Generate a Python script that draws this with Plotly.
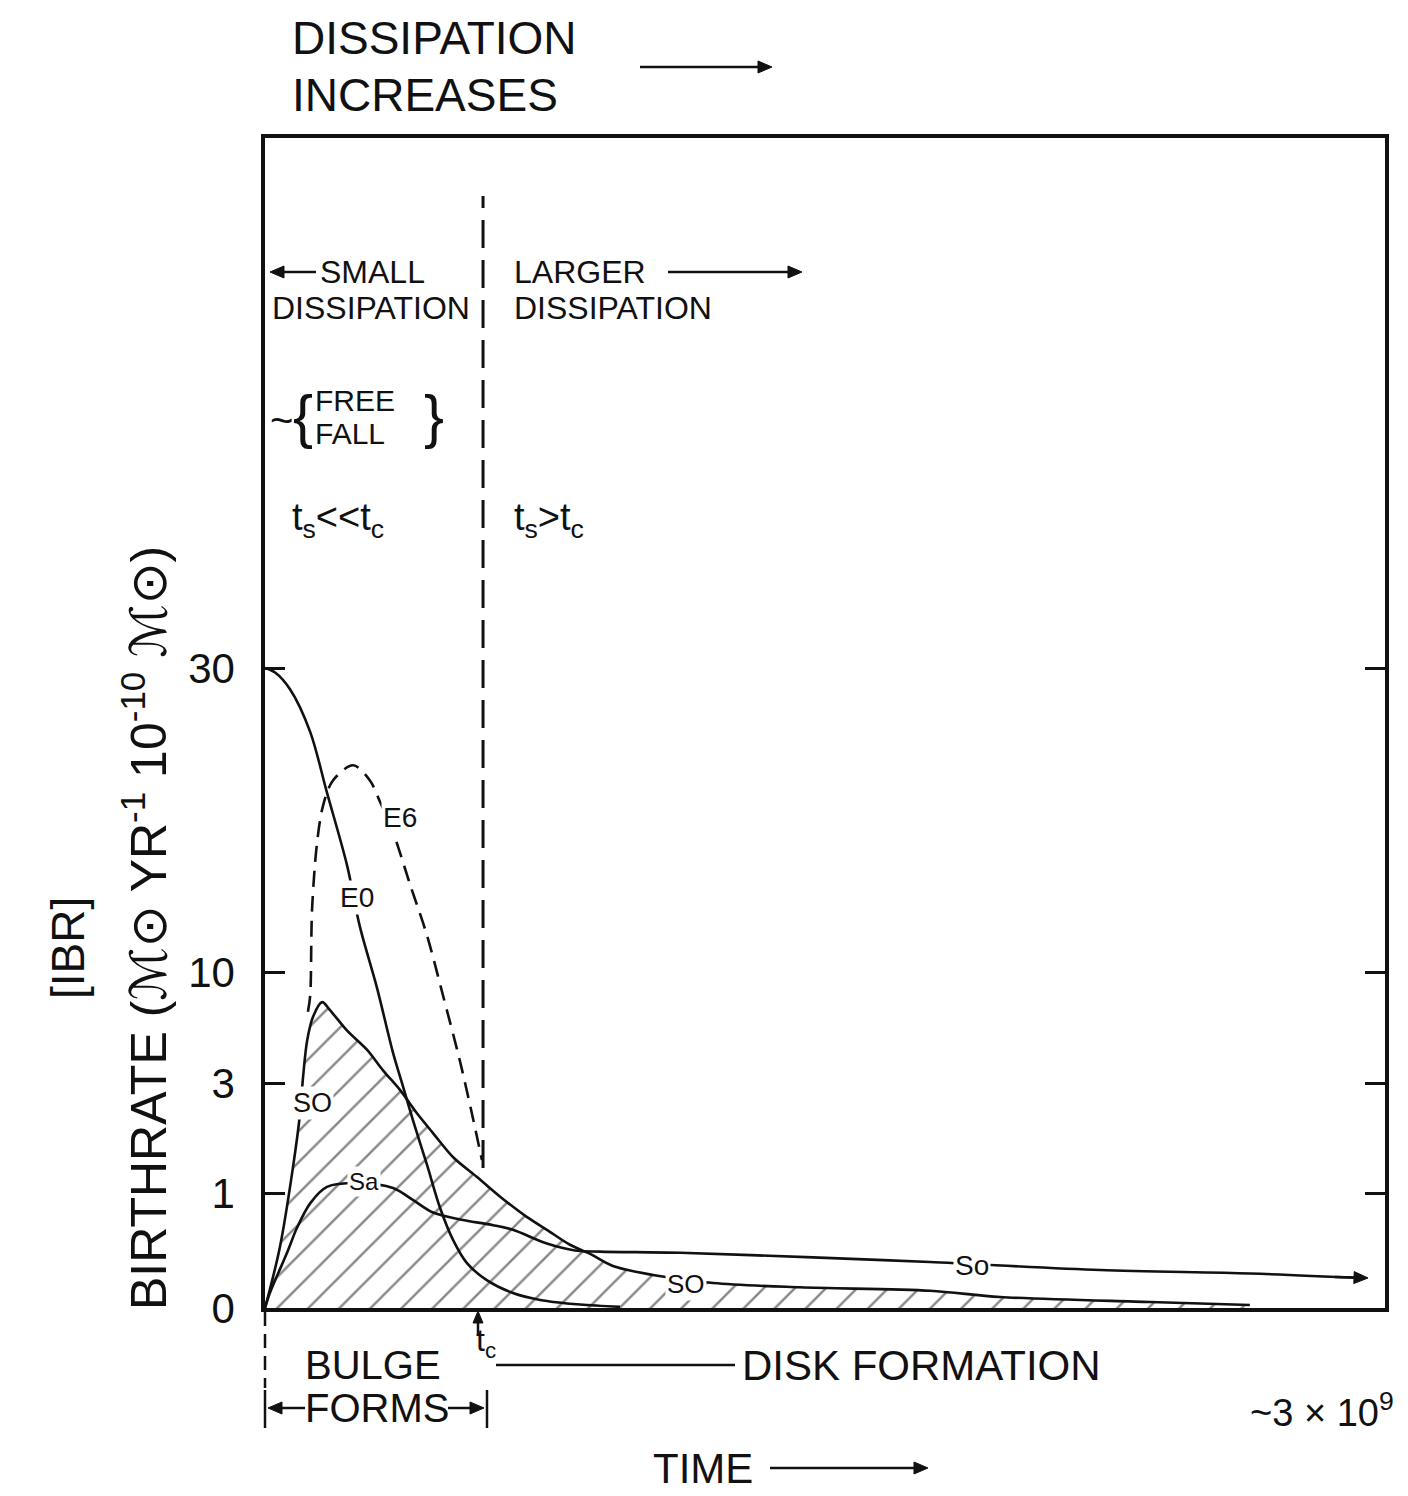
import numpy as np
import plotly.graph_objects as go

# ---------------- data (time in units of 1e9 yr, birthrate in 1e-10 M_sun/yr per M_sun) ----
TC = 0.584          # end of bulge formation, t_c
X_MAX = 3.0         # ~3 x 10^9

E0_t = [0.000, 0.027, 0.067, 0.121, 0.166, 0.220, 0.254, 0.300, 0.343, 0.370, 0.396,
        0.434, 0.469, 0.504, 0.541, 0.595, 0.664, 0.737, 0.844, 0.951]
E0_v = [30.0, 29.7, 28.6, 25.8, 21.8, 17.0, 13.0, 9.0, 4.9, 2.93, 2.33,
        1.51, 0.87, 0.59, 0.39, 0.24, 0.13, 0.07, 0.03, 0.01]

E6_t = [0.115, 0.121, 0.126, 0.139, 0.155, 0.182, 0.236, 0.281, 0.308, 0.343, 0.388,
        0.434, 0.477, 0.522, 0.557, 0.581]
E6_v = [7.5, 8.5, 14.1, 18.4, 20.9, 22.6, 23.6, 22.6, 21.2, 19.2, 15.8,
        12.4, 8.5, 4.4, 2.36, 1.6]

S0_t = [0.000, 0.013, 0.040, 0.075, 0.094, 0.102, 0.113, 0.129, 0.153, 0.174, 0.220,
        0.273, 0.316, 0.362, 0.407, 0.450, 0.504, 0.568, 0.629, 0.702, 0.755, 0.817,
        0.871, 0.932, 1.039, 1.200, 1.433, 1.781, 1.969, 2.371, 2.638]
S0_v = [0.0, 0.16, 0.53, 1.47, 2.45, 3.38, 5.7, 7.2, 8.1, 7.6, 6.3,
        5.1, 3.8, 2.87, 2.45, 2.09, 1.65, 1.29, 0.97, 0.79, 0.68, 0.55,
        0.47, 0.365, 0.287, 0.217, 0.18, 0.15, 0.096, 0.052, 0.026]

Sa_t = [0.000, 0.013, 0.059, 0.086, 0.121, 0.166, 0.254, 0.343, 0.396, 0.450, 0.522,
        0.611, 0.664, 0.755, 0.830, 0.897, 1.112, 1.468, 1.781, 2.237, 2.638, 2.946]
Sa_v = [0.0, 0.13, 0.48, 0.70, 0.91, 1.11, 1.18, 1.09, 0.94, 0.83, 0.77,
        0.72, 0.68, 0.56, 0.50, 0.49, 0.48, 0.44, 0.40, 0.33, 0.30, 0.26]

TICK_VALUES = [0, 1, 3, 10, 30]
TICK_TEXT = ["0", "1", "3", "10", "30"]

# ---------------- the hand-drawn (non-uniform) birthrate scale --------------------------
AXIS_POS = [0, 115, 225, 336, 640]
Y_TOP = 1170


def yscale(v):
    return np.interp(v, TICK_VALUES, AXIS_POS)


# ---------------- page geometry (screen pixels; page body adds an 8px margin) -------------
BODY = 8
W, H = 1400, 1488
L, R, T, B = 265, 1385, 138, 1308          # plot frame on screen
FONT = "Liberation Sans, Arial, DejaVu Sans, sans-serif"
INK = "#111111"


def px(x):
    return (x - L) / (R - L)


def py(y):
    return (B - y) / (B - T)


fig = go.Figure()

line_kw = dict(shape="spline", smoothing=0.9)

# S0 with hatched area beneath
fig.add_trace(go.Scatter(
    x=S0_t, y=yscale(S0_v), mode="lines", fill="tozeroy",
    fillpattern=dict(shape="/", fgcolor=INK, bgcolor="white", size=22, solidity=0.11),
    line=dict(color=INK, width=2.6, **line_kw), hoverinfo="skip", showlegend=False))

fig.add_trace(go.Scatter(
    x=Sa_t, y=yscale(Sa_v), mode="lines",
    line=dict(color=INK, width=2.6, **line_kw), showlegend=False))

fig.add_trace(go.Scatter(
    x=E0_t, y=yscale(E0_v), mode="lines",
    line=dict(color=INK, width=2.6, **line_kw), showlegend=False))

fig.add_trace(go.Scatter(
    x=E6_t, y=yscale(E6_v), mode="lines",
    line=dict(color=INK, width=2.6, dash="16px,9px", **line_kw), showlegend=False))

annotations = []
shapes = []


def text(s, x, y, size, xanchor="center", angle=0, bg=None):
    d = dict(text=s, x=px(x), y=py(y), xref="paper", yref="paper", showarrow=False,
             xanchor=xanchor, yanchor="middle", textangle=angle,
             font=dict(family=FONT, size=size, color=INK))
    if bg:
        d["bgcolor"] = bg
        d["borderpad"] = 1
    annotations.append(d)


def seg(x0, y0, x1, y1, width=2.5, dash=None):
    ln = dict(color=INK, width=width)
    if dash:
        ln["dash"] = dash
    shapes.append(dict(type="line", xref="paper", yref="paper",
                       x0=px(x0), y0=py(y0), x1=px(x1), y1=py(y1), line=ln))


def arrow(x0, y0, x1, y1, width=2.5, head=14, half=6):
    dx, dy = x1 - x0, y1 - y0
    n = (dx * dx + dy * dy) ** 0.5
    ux, uy = dx / n, dy / n
    bx, by = x1 - ux * head, y1 - uy * head
    seg(x0, y0, bx, by, width)
    p1 = (bx - uy * half, by + ux * half)
    p2 = (bx + uy * half, by - ux * half)
    path = "M {:.5f},{:.5f} L {:.5f},{:.5f} L {:.5f},{:.5f} Z".format(
        px(x1), py(y1), px(p1[0]), py(p1[1]), px(p2[0]), py(p2[1]))
    shapes.append(dict(type="path", xref="paper", yref="paper", path=path,
                       fillcolor=INK, line=dict(color=INK, width=1)))


# top heading
text("DISSIPATION", 290, 38, 46, "left")
text("INCREASES", 290, 95, 46, "left")
arrow(640, 67, 772, 67)

# regime labels inside the frame
text("SMALL", 318, 272, 32, "left")
arrow(316, 272, 270, 272)
text("DISSIPATION", 270, 308, 32, "left")
text("LARGER", 512, 272, 32, "left")
arrow(668, 272, 802, 272)
text("DISSIPATION", 512, 308, 32, "left")

text("~", 281, 420, 40)
text("{", 303, 416, 60)
text("FREE", 313, 400, 30, "left")
text("FALL", 313, 433, 30, "left")
text("}", 434, 416, 60)

text("t<sub>s</sub><<t<sub>c</sub>", 290, 520, 38, "left")
text("t<sub>s</sub>>t<sub>c</sub>", 512, 520, 38, "left")

# curve labels
text("E6", 400, 818, 28, bg="white")
text("E0", 357, 897, 28, bg="white")
text("SO", 312, 1103, 27, bg="white")
text("Sa", 364, 1181, 24, bg="white")
text("SO", 686, 1284, 26, bg="white")
text("So", 972, 1265, 28, bg="white")
arrow(1335, 1277, 1368, 1278)

# below the axis
text("t<sub>c</sub>", 486, 1343, 32)
arrow(478, 1334, 478, 1311, head=12, half=5)
text("BULGE", 373, 1365, 40)
text("FORMS", 377, 1408, 40)
arrow(305, 1408, 268, 1408)
arrow(448, 1408, 484, 1408)
text("DISK FORMATION", 740, 1365, 42, "left")
text("~3 × 10<sup>9</sup>", 1396, 1410, 38, "right")
text("TIME", 703, 1468, 42)
arrow(770, 1468, 928, 1468)

# y-axis title
text("BIRTHRATE (ℳ⊙ YR<sup>-1</sup> 10<sup>-10</sup> ℳ⊙)", 145, 928, 50, angle=-90)
text("[IBR]", 68, 948, 46, angle=-90)

# t_c divider
shapes.append(dict(type="line", xref="x", yref="paper", x0=TC, x1=TC, y0=py(1168), y1=py(196),
                   line=dict(color=INK, width=3, dash="28px,12px")))
# left dashed guide under the axis
seg(265, 1312, 265, 1388, dash="14px,8px")
# FORMS bracket bars
seg(265, 1390, 265, 1428)
seg(487, 1390, 487, 1428)
# t_c -> DISK FORMATION connector
seg(496, 1365, 735, 1365)

fig.update_layout(
    width=W, height=H, autosize=False,
    margin=dict(l=L - BODY, r=W - (R - BODY), t=T - BODY, b=H - (B - BODY), pad=0),
    paper_bgcolor="white", plot_bgcolor="white",
    showlegend=False,
    annotations=annotations, shapes=shapes,
    xaxis=dict(range=[0, X_MAX], showgrid=False, zeroline=False, showticklabels=False,
               ticks="", showline=True, linewidth=3.5, linecolor=INK, mirror=True),
    yaxis=dict(range=[0, Y_TOP], showgrid=False, zeroline=False,
               tickmode="array", tickvals=list(yscale(TICK_VALUES)), ticktext=TICK_TEXT,
               ticks="inside", ticklen=20, tickwidth=3, tickcolor=INK,
               ticklabelstandoff=18,
               tickfont=dict(family=FONT, size=42, color=INK),
               showline=True, linewidth=3.5, linecolor=INK, mirror="ticks"),
)

fig.write_html("out.html")
